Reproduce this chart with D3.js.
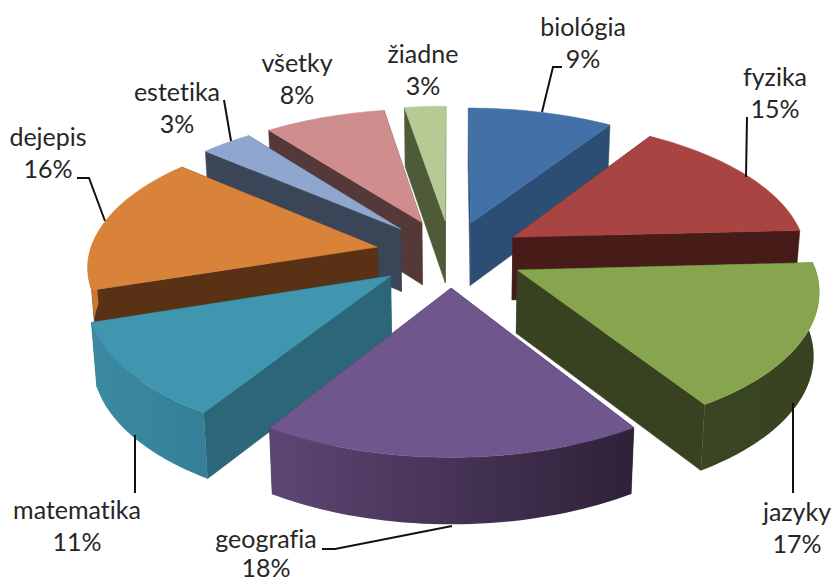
<!DOCTYPE html>
<html><head><meta charset="utf-8">
<script src="https://cdn.jsdelivr.net/npm/d3@7/dist/d3.min.js"></script>
<style>html,body{margin:0;padding:0;background:#fff}svg{display:block}text{font-family:Lato,"Open Sans",sans-serif;font-size:25px;fill:#262626;font-variant-ligatures:none}</style>
</head><body><svg id="c" width="834" height="583"></svg>
<script>
const categories=["biológia","fyzika","jazyky","geografia","matematika","dejepis","estetika","všetky","žiadne"];
const percentLabels=["9%","15%","17%","18%","11%","16%","3%","8%","3%"];
const values=[9.17,15,16.8,18,11,16.33,3.33,7.77,2.6];
const explode=[0.24,0.247,0.25,0.24,0.255,0.257,0.255,0.257,0.25];
const radius=[1,1,1,1,1,0.98,0.985,0.985,1];
const topColors=["#4271A8","#A84441","#87A44E","#6F568D","#3F96AE","#D9823A","#8FA6CF","#CF8E8D","#B6CB93"];
const radialColors=["#2C4D74","#471C18","#384220","#3A2C4C","#2B6778","#593216","#3A4558","#553838","#4F5A38"];
const rimLeft=["#35587F","#5F2A27","#3A4522","#5E4674","#3B89A2","#C77A32","#4C5E80","#7D5453","#5F6E44"];
const rimRight=["#2C4D74","#4D201C","#384220","#2E2138","#358098","#C77A32","#3A4558","#5F4040","#4F5A38"];
const labelPos=[[583,28],[775,78],[797,513],[266,540],[77,511],[48,138],[177,93],[297,64],[423,55]];
const leaders=[[[542,112],[553,67],[562,67]],[[746,177],[747,117]],[[793,403],[793,493]],[[452,526],[335,549],[322,549]],[[135,435],[135,493]],[[105,221],[89,178],[77,178]],[[231,141],[224,100]],[],[]];

const cx=451,cy=254,F=294,G=137.6,p=0.125,q=0.13,D=63;
function proj(u,v,h){
  const x=cx+F*u/(1-p*v)*(1-0.015*h);
  const y=cy+G*v/(1-q*v)+h*D*(1+0.05*v);
  return [x,y];
}
const line=d3.line();
const svg=d3.select("#c"),defs=svg.append("defs");
const pie=d3.pie().sort(null).startAngle(0).endAngle(2*Math.PI);
const arcs=pie(values).map((a,i)=>{
  const mid=(a.startAngle+a.endAngle)/2,e=explode[i];
  return {i,a0:a.startAngle,a1:a.endAngle,mid,ou:e*Math.sin(mid),ov:-e*Math.cos(mid)};
});
arcs.sort((m,n)=>m.ov-n.ov);
arcs.forEach(s=>{
  const R=radius[s.i];
  const P=(r,t,h)=>proj(s.ou+R*r*Math.sin(t),s.ov-R*r*Math.cos(t),h);
  const ts=d3.range(0,41).map(k=>s.a0+(s.a1-s.a0)*k/40);
  const g=svg.append("g");
  const rc=radialColors[s.i];
  [s.a0,s.a1].forEach(t=>{
    g.append("path").attr("d",line([P(0,t,0),P(1,t,0),P(1,t,1),P(0,t,1)])+"Z").attr("fill",rc).attr("stroke",rc).attr("stroke-width",0.5);
  });
  const id="rim"+s.i;
  const lg=defs.append("linearGradient").attr("id",id);
  lg.append("stop").attr("offset","0%").attr("stop-color",rimLeft[s.i]);
  lg.append("stop").attr("offset","100%").attr("stop-color",rimRight[s.i]);
  const vis=ts.filter(t=>Math.cos(t)<0.05);
  if(vis.length>1){
    const pts=vis.map(t=>P(1,t,0)).concat(vis.slice().reverse().map(t=>P(1,t,1)));
    g.append("path").attr("d",line(pts)+"Z").attr("fill",`url(#${id})`);
  }
  const top=[P(0,s.a0,0)].concat(ts.map(t=>P(1,t,0)));
  g.append("path").attr("d",line(top)+"Z").attr("fill",topColors[s.i]).attr("stroke",topColors[s.i]).attr("stroke-width",0.5);
});
leaders.forEach(l=>{ if(l.length) svg.append("path").attr("d",line(l)).attr("fill","none").attr("stroke","#111").attr("stroke-width",2);});
categories.forEach((c,i)=>{
  const t=svg.append("text").attr("text-anchor","middle");
  t.append("tspan").attr("x",labelPos[i][0]).attr("y",labelPos[i][1]+8).text(c);
  t.append("tspan").attr("x",labelPos[i][0]).attr("y",Math.min(labelPos[i][1]+40,577)).text(percentLabels[i]);
});
</script></body></html>
